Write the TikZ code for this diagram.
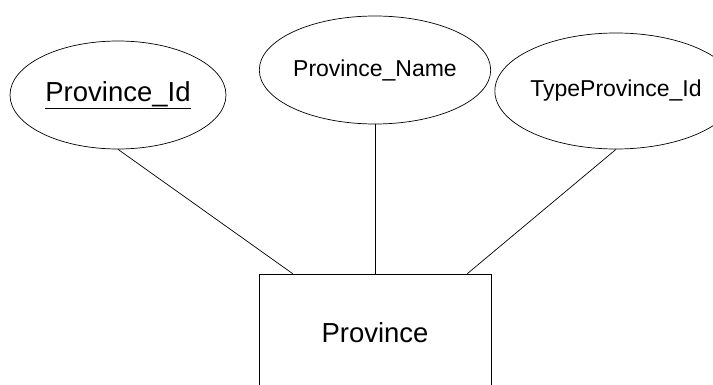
\documentclass[tikz,border=0pt]{standalone}
\usepackage{fontspec}
\setmainfont{Liberation Sans}
\usetikzlibrary{shapes}
\tikzset{
	erbase/.style = {
		align=center,
		inner sep=0pt,
		text centered,
		draw=black,
		line width=0.7pt
	},
	node_attr/.style = {
		erbase,
		ellipse,
		font=\fontsize{23}{28}\selectfont,
		minimum width=216pt,
		minimum height=108pt
	},
	node_key/.style = {
		node_attr,
		font=\fontsize{27.5}{33}\selectfont
	},
	node_entity/.style = {
		erbase,
		rectangle,
		font=\fontsize{27.5}{33}\selectfont,
		minimum width=232pt,
		minimum height=118pt
	},
}

\begin{document}
\begin{tikzpicture}[x=1pt, y=-1pt, line width=0.7pt]
\useasboundingbox (0,0) rectangle (713,385);
% attributes
\node [node_key] (prov_id) at (118,95) {\underline{Province\_Id}};
\node [node_attr] (prov_name) at (375,70) {Province\_Name};
\node [node_attr, minimum height=116pt] (type_id) at (616,91) {TypeProvince\_Id};
% entity
\node [node_entity] (prov) at (375,333) {Province};
\draw (prov_id.south) -- ([xshift=34pt]prov.north west);
\draw (prov_name.south) -- (prov.north);
\draw (type_id.south) -- ([xshift=-24pt]prov.north east);
\end{tikzpicture}
\end{document}
